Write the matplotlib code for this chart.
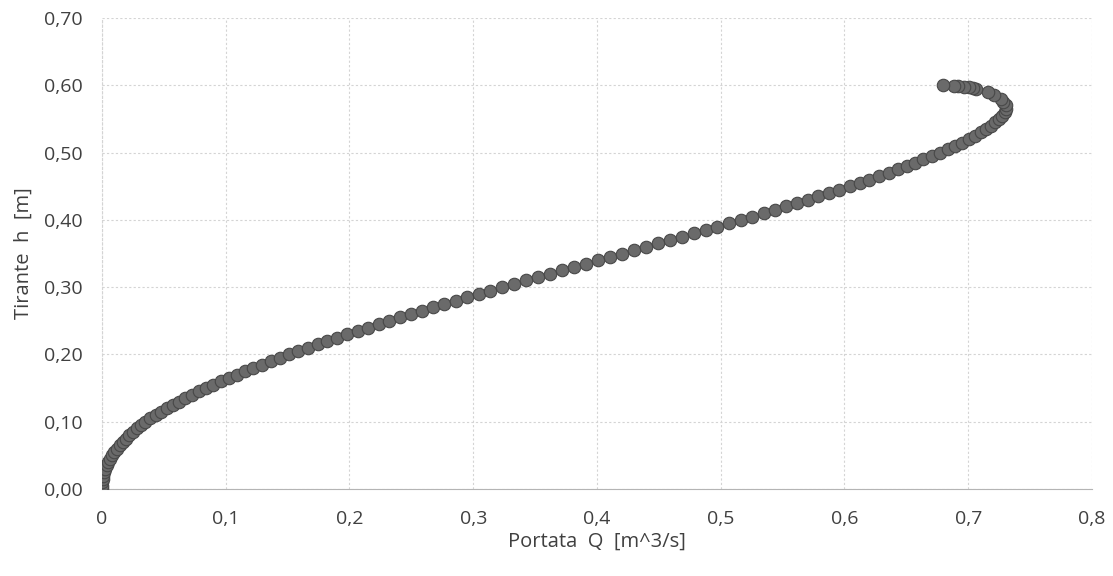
import matplotlib.pyplot as plt

# water depth h [m] and discharge Q [m^3/s]
h = [0.000, 0.005, 0.010, 0.015, 0.020, 0.025, 0.030, 0.035, 0.040, 0.045,
     0.050, 0.055, 0.060, 0.065, 0.070, 0.075, 0.080, 0.085, 0.090, 0.095,
     0.100, 0.105, 0.110, 0.115, 0.120, 0.125, 0.130, 0.135, 0.140, 0.145,
     0.150, 0.155, 0.160, 0.165, 0.170, 0.175, 0.180, 0.185, 0.190, 0.195,
     0.200, 0.205, 0.210, 0.215, 0.220, 0.225, 0.230, 0.235, 0.240, 0.245,
     0.250, 0.255, 0.260, 0.265, 0.270, 0.275, 0.280, 0.285, 0.290, 0.295,
     0.300, 0.305, 0.310, 0.315, 0.320, 0.325, 0.330, 0.335, 0.340, 0.345,
     0.350, 0.355, 0.360, 0.365, 0.370, 0.375, 0.380, 0.385, 0.390, 0.395,
     0.400, 0.405, 0.410, 0.415, 0.420, 0.425, 0.430, 0.435, 0.440, 0.445,
     0.450, 0.455, 0.460, 0.465, 0.470, 0.475, 0.480, 0.485, 0.490, 0.495,
     0.500, 0.505, 0.510, 0.515, 0.520, 0.525, 0.530, 0.535, 0.540, 0.545,
     0.550, 0.555, 0.560, 0.565, 0.570, 0.575, 0.580, 0.585, 0.590, 0.595,
     0.596, 0.597, 0.598, 0.599, 0.5995, 0.600]

Q = [0.0000, 0.0001, 0.0003, 0.0007, 0.0012, 0.0020, 0.0028, 0.0039, 0.0051, 0.0066,
     0.0082, 0.0101, 0.0121, 0.0143, 0.0167, 0.0193, 0.0220, 0.0250, 0.0281, 0.0315,
     0.0351, 0.0391, 0.0433, 0.0478, 0.0524, 0.0572, 0.0622, 0.0674, 0.0728, 0.0784,
     0.0842, 0.0901, 0.0962, 0.1025, 0.1090, 0.1156, 0.1224, 0.1293, 0.1364, 0.1436,
     0.1510, 0.1586, 0.1663, 0.1742, 0.1821, 0.1902, 0.1984, 0.2068, 0.2152, 0.2238,
     0.2323, 0.2411, 0.2499, 0.2588, 0.2677, 0.2768, 0.2859, 0.2952, 0.3044, 0.3137,
     0.3230, 0.3326, 0.3423, 0.3520, 0.3618, 0.3715, 0.3813, 0.3910, 0.4008, 0.4106,
     0.4204, 0.4301, 0.4399, 0.4495, 0.4592, 0.4688, 0.4784, 0.4879, 0.4974, 0.5067,
     0.5160, 0.5253, 0.5346, 0.5436, 0.5527, 0.5615, 0.5704, 0.5789, 0.5875, 0.5958,
     0.6041, 0.6122, 0.6202, 0.6280, 0.6356, 0.6430, 0.6502, 0.6571, 0.6638, 0.6705,
     0.6771, 0.6833, 0.6894, 0.6948, 0.7003, 0.7053, 0.7103, 0.7146, 0.7188, 0.7220,
     0.7252, 0.7273, 0.7294, 0.7302, 0.7307, 0.7285, 0.7262, 0.7212, 0.7158, 0.7062,
     0.7036, 0.7005, 0.6968, 0.6919, 0.6884, 0.6800]

xticks = [0, 0.1, 0.2, 0.3, 0.4, 0.5, 0.6, 0.7, 0.8]
xlabels = ['0', '0,1', '0,2', '0,3', '0,4', '0,5', '0,6', '0,7', '0,8']
yticks = [0, 0.1, 0.2, 0.3, 0.4, 0.5, 0.6, 0.7]
ylabels = ['0,00', '0,10', '0,20', '0,30', '0,40', '0,50', '0,60', '0,70']

plt.rcParams['font.family'] = ['Open Sans', 'DejaVu Sans']
txt = '#404040'

fig = plt.figure(figsize=(11.13, 5.76), dpi=100)
ax = fig.add_axes([0.0916, 0.151, 0.8895, 0.8177])

ax.plot(Q, h, linestyle='none', marker='o', markersize=9,
        markerfacecolor='#6a6a6a', markeredgecolor='#484848', markeredgewidth=0.8,
        zorder=3)

ax.set_xlim(0, 0.8)
ax.set_ylim(0, 0.7)
ax.set_xticks(xticks)
ax.set_xticklabels(xlabels)
ax.set_yticks(yticks)
ax.set_yticklabels(ylabels)
ax.tick_params(axis='both', length=0, labelsize=14, labelcolor=txt)
ax.tick_params(axis='x', pad=15)
ax.tick_params(axis='y', pad=14)

ax.grid(True, color='#d4d4d4', linewidth=0.8, linestyle=(0, (2, 2)))
for s in ['top', 'right']:
    ax.spines[s].set_visible(False)
ax.spines['left'].set_color('#d4d4d4')
ax.spines['left'].set_linestyle((0, (2, 2)))
ax.spines['bottom'].set_color('#b4b4b4')

ax.set_xlabel('Portata  Q  [m^3/s]', fontsize=14.5, color=txt, labelpad=3)
ax.set_ylabel('Tirante  h  [m]', fontsize=14.5, color=txt, labelpad=7)

fig.savefig('out.png', dpi=100)
